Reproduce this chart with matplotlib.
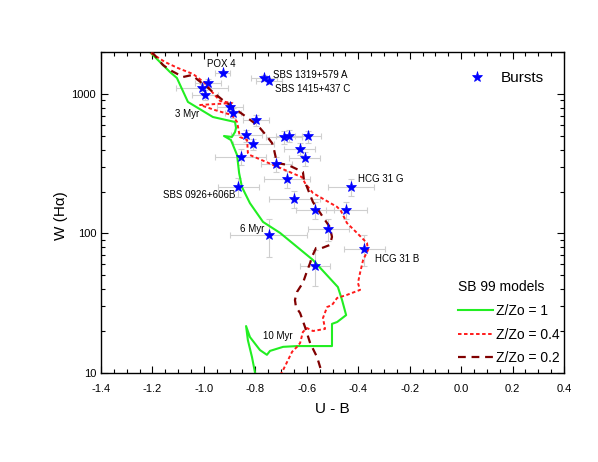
import matplotlib
matplotlib.use("Agg")
import matplotlib.pyplot as plt
from matplotlib.ticker import FixedLocator, MultipleLocator, NullFormatter, LogLocator

plt.rcParams['font.family'] = ['Liberation Sans', 'DejaVu Sans']
plt.rcParams['axes.unicode_minus'] = False

# ---- Data: bursts (U-B, W(Halpha)) with errors ----
burst_ub = [-0.927, -0.766, -0.747, -0.985, -1.007, -0.997, -0.898, -0.886, -0.797,
            -0.836, -0.688, -0.668, -0.596, -0.808, -0.627, -0.857, -0.608, -0.718,
            -0.677, -0.428, -0.867, -0.648, -0.568, -0.447, -0.517, -0.748, -0.377, -0.568]
burst_w = [1406, 1297, 1245, 1205, 1099, 984, 811, 735, 647,
           506, 490, 502, 497, 438, 405, 356, 346, 315,
           247, 217, 217, 177, 147, 147, 108, 98, 78, 58.8]
burst_xerr = [0.03, 0.05, 0.05, 0.05, 0.10, 0.05, 0.05, 0.03, 0.05,
              0.06, 0.07, 0.05, 0.05, 0.08, 0.06, 0.10, 0.06, 0.06,
              0.09, 0.09, 0.08, 0.10, 0.075, 0.08, 0.08, 0.15, 0.08, 0.06]
burst_yerr = [60, 60, 60, 80, 80, 80, 60, 60, 60,
              50, 50, 50, 50, 40, 40, 45, 40, 40,
              35, 30, 35, 25, 20, 20, 20, 30, 20, 17]

# ---- SB99 model tracks ----
z1_ub = [-1.21, -1.132, -1.105, -1.062, -0.965, -0.879, -0.875, -0.879, -0.891, -0.922,
         -0.895, -0.887, -0.871, -0.863, -0.852, -0.821, -0.770, -0.704, -0.576, -0.479,
         -0.463, -0.447, -0.482, -0.502, -0.502, -0.638, -0.692, -0.743, -0.755, -0.782,
         -0.821, -0.836, -0.829, -0.813, -0.801]
z1_w = [2000, 1438, 1303, 877, 684, 630, 571, 534, 492, 500,
        468, 431, 365, 271, 215, 165, 121, 101, 64.6, 41.3,
        33.4, 26.0, 23.2, 22.5, 15.6, 15.6, 15.4, 14.4, 13.5, 14.6,
        18.1, 21.7, 17.2, 13.0, 10.0]

z04_ub = [-1.206, -1.151, -1.101, -1.042, -0.996, -0.968, -0.937, -0.891, -0.957, -1.015,
          -0.957, -0.891, -0.871, -0.860, -0.832, -0.829, -0.821, -0.731, -0.638, -0.619,
          -0.607, -0.576, -0.482, -0.467, -0.444, -0.405, -0.366, -0.362, -0.381, -0.393,
          -0.401, -0.393, -0.444, -0.482, -0.502, -0.521, -0.537, -0.529, -0.576, -0.599,
          -0.615, -0.626, -0.638, -0.657, -0.692, -0.700]
z04_w = [1968, 1694, 1535, 1390, 1199, 1033, 891, 861, 847, 834,
         767, 706, 630, 492, 468, 378, 365, 310, 262, 254,
         230, 195, 155, 145, 119, 101, 85.5, 76.2, 64.6, 52.1,
         44.2, 39.4, 36.3, 34.5, 30.7, 29.7, 24.8, 20.7, 20.0, 21.0,
         19.7, 16.4, 15.4, 14.2, 10.5, 9.9]

z02_ub = [-1.202, -1.159, -1.132, -1.081, -1.046, -1.023, -0.988, -0.965, -0.918, -0.898,
          -0.867, -0.840, -0.809, -0.782, -0.759, -0.735, -0.727, -0.716, -0.673, -0.615,
          -0.611, -0.599, -0.576, -0.537, -0.510, -0.502, -0.510, -0.541, -0.564, -0.580,
          -0.587, -0.599, -0.615, -0.626, -0.638, -0.646, -0.642, -0.626, -0.607, -0.587,
          -0.560, -0.541]
z02_w = [2000, 1614, 1486, 1324, 1368, 1259, 1122, 1033, 877, 834,
         755, 695, 630, 570, 508, 445, 397, 320, 310, 276,
         242, 215, 168, 131, 111, 94.5, 82.8, 78.7, 78.7, 67.9,
         61.5, 53.8, 44.2, 41.3, 38.1, 33.4, 29.7, 26.9, 21.4, 16.4,
         13.0, 10.0]

fig = plt.figure(figsize=(5.98, 4.62), dpi=100)
ax = fig.add_axes([101/598, 89/462, 463/598, 321/462])

ax.errorbar(burst_ub, burst_w, xerr=burst_xerr, yerr=burst_yerr, fmt='none',
            ecolor='#cfcfcf', elinewidth=0.8, capsize=2.5, capthick=0.8, zorder=1)

l1, = ax.plot(z1_ub, z1_w, color='#22ee22', lw=1.5, zorder=2)
l2, = ax.plot(z04_ub, z04_w, color='#ff1a1a', lw=1.4, dashes=(1.8, 1.3), zorder=3)
l3, = ax.plot(z02_ub, z02_w, color='#800000', lw=1.6, dashes=(3.5, 2.6), zorder=3)

st, = ax.plot(burst_ub, burst_w, linestyle='none', marker='*', color='#0000ff',
              markersize=8, markeredgewidth=0.5, zorder=4)

ax.set_yscale('log')
ax.set_xlim(-1.4, 0.4)
ax.set_ylim(10, 2000)

ax.yaxis.set_major_locator(FixedLocator([10, 100, 1000]))
ax.set_yticklabels(['10', '100', '1000'])
ax.yaxis.set_minor_locator(LogLocator(base=10, subs=range(2, 10)))
ax.yaxis.set_minor_formatter(NullFormatter())
ax.xaxis.set_major_locator(MultipleLocator(0.2))
ax.xaxis.set_minor_locator(MultipleLocator(0.05))
ax.set_xticklabels(['%.1f' % v for v in ax.get_xticks()])

ax.tick_params(which='both', direction='in', top=True, right=True, labelsize=8)
ax.tick_params(which='major', length=5, width=0.8)
ax.tick_params(axis='x', which='major', pad=8)
ax.tick_params(which='minor', length=3, width=0.8)
for s in ax.spines.values():
    s.set_linewidth(1.0)

ax.set_xlabel('U - B', fontsize=11, labelpad=6)
ax.set_ylabel('W (Hα)', fontsize=11)
ax.yaxis.set_label_coords(-0.071, 0.49)

fs = 7
ax.text(-0.988, 1641, 'POX 4', fontsize=fs, va='center')
ax.text(-0.731, 1368, 'SBS 1319+579 A', fontsize=fs, va='center')
ax.text(-0.723, 1086, 'SBS 1415+437 C', fontsize=fs, va='center')
ax.text(-1.112, 719, '3 Myr', fontsize=fs, va='center')
ax.text(-1.159, 189, 'SBS 0926+606B', fontsize=fs, va='center')
ax.text(-0.401, 246, 'HCG 31 G', fontsize=fs, va='center')
ax.text(-0.335, 65.6, 'HCG 31 B', fontsize=fs, va='center')
ax.text(-0.860, 108, '6 Myr', fontsize=fs, va='center')
ax.text(-0.770, 18.4, '10 Myr', fontsize=fs, va='center')

leg1 = ax.legend([st], ['Bursts'], loc='center left', bbox_to_anchor=(0.757, 0.918),
                 frameon=False, fontsize=11, handlelength=1.5, handletextpad=0.8)
ax.add_artist(leg1)
leg2 = ax.legend([l1, l2, l3], ['Z/Zo = 1', 'Z/Zo = 0.4', 'Z/Zo = 0.2'],
                 title='SB 99 models', title_fontsize=10, fontsize=10,
                 loc='lower left', bbox_to_anchor=(0.745, -0.015), frameon=False,
                 handlelength=2.5, handletextpad=0.2, labelspacing=0.7)
leg2._legend_box.align = 'left'

fig.savefig('out.png', dpi=100)
